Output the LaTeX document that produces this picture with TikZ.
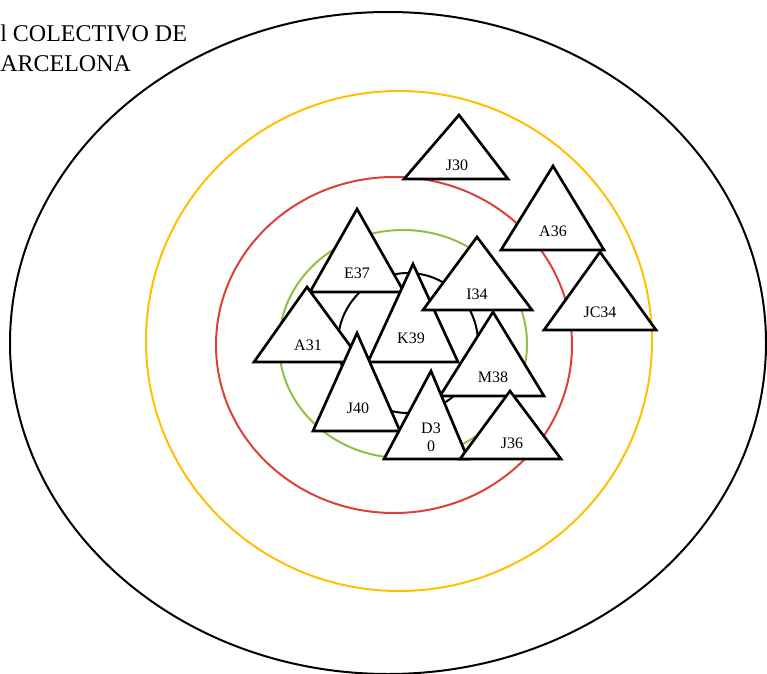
\documentclass[tikz,border=0pt]{standalone}
\usepackage{fontspec}
\setmainfont{Liberation Serif}
\definecolor{ringGold}{RGB}{255,192,0}
\definecolor{ringRed}{RGB}{220,65,55}
\definecolor{ringGreen}{RGB}{146,190,72}
\tikzset{
  ring/.style={draw=#1,line width=1.5pt},
  ring/.default=black,
  pers/.style={draw=black,fill=white,line width=2pt,line join=miter},
  perslabel/.style={font=\fontsize{12}{13.5}\selectfont,inner sep=0pt,align=center},
  title/.style={font=\fontsize{18}{22.5}\selectfont,inner sep=0pt,align=left}
}
% one person: apex, left base corner, right base corner, label position, label
\newcommand{\pers}[6]{%
  \filldraw[pers] #2 -- #3 -- #4 -- cycle;
  \node[perslabel] (#1) at #5 {#6};}

\begin{document}
\begin{tikzpicture}[x=0.75pt,y=-0.75pt]
  \useasboundingbox (0,0) rectangle (767,674);
  \clip (0,0) rectangle (767,674);
  % rings
  \draw[ring] (388,343) ellipse [x radius=283.5pt, y radius=248.25pt];
  \draw[ring=ringGold] (399,341) ellipse [x radius=189.75pt, y radius=187.5pt];
  \draw[ring=ringRed] (394,345) ellipse [x radius=133.5pt, y radius=126pt];
  \draw[ring=ringGreen] (403,344) ellipse [x radius=93pt, y radius=85.5pt];
  \draw[ring] (408,343) circle [radius=52.5pt];
  \node[title, anchor=base west] (title) at (0,72) {l COLECTIVO DE\\ARCELONA};
  % persons
  \pers{e37}{(357,209)}{(310,292)}{(404,292)}{(357,273)}{E37}
  \pers{k39}{(413,264)}{(368,362)}{(458,362)}{(411,338)}{K39}
  \pers{a31}{(307,287)}{(254,362)}{(362,362)}{(308,345)}{A31}
  \pers{i34}{(477,237)}{(423,310)}{(532,310)}{(477,294)}{I34}
  \pers{m38}{(493,312)}{(440,396)}{(544,396)}{(493,377)}{M38}
  \pers{j40}{(357,333)}{(313,431)}{(400,431)}{(358,408)}{J40}
  \pers{d30}{(431,371)}{(384,459)}{(468,459)}{(431,437)}{D3\\0}
  \pers{j36}{(510,391)}{(460,459)}{(561,459)}{(512,443)}{J36}
  \pers{j30}{(459,115)}{(404,179)}{(508,179)}{(457,165)}{J30}
  \pers{a36}{(553,166)}{(501,250)}{(604,250)}{(553,231)}{A36}
  \pers{jc34}{(600,252)}{(544,330)}{(656,330)}{(600,312)}{JC34}
\end{tikzpicture}
\end{document}
